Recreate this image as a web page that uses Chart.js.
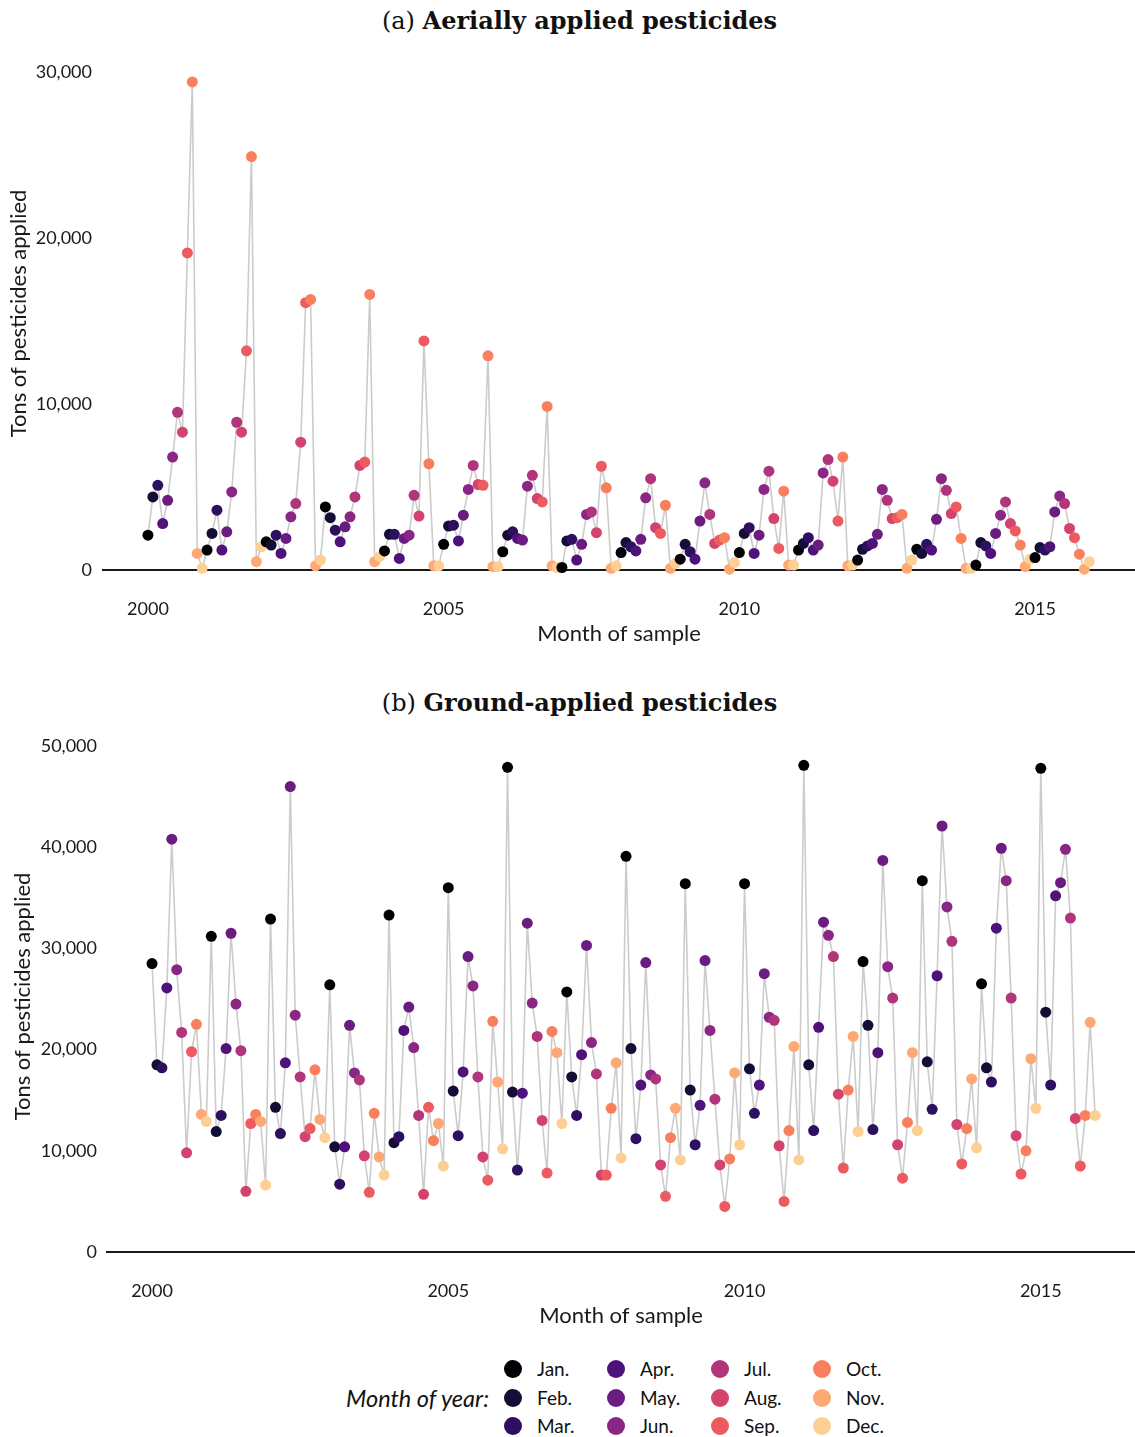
<!DOCTYPE html>
<html>
<head>
<meta charset="utf-8">
<script src="https://cdn.jsdelivr.net/npm/chart.js@4.4.1/dist/chart.umd.min.js"></script>
<style>
  body { margin: 0; background: #fff; font-family: Lato, sans-serif; color: #111; }
  #page { position: relative; width: 1135px; height: 1437px; overflow: hidden; }
  .title { position: absolute; left: 0; width: 1159px; text-align: center;
           font-family: "DejaVu Serif", serif; font-size: 24px; line-height: 28px; }
  canvas { position: absolute; left: 0; }
  #legendTitle { position: absolute; right: 646px; top: 1384px; font-style: italic; font-size: 23.5px; line-height: 28px; }
  .dot { position: absolute; width: 18px; height: 18px; border-radius: 50%; }
  .lab { position: absolute; font-size: 19px; line-height: 22px; }
</style>
</head>
<body>
<div id="page">
  <div class="title" style="top:7px">(a) <b>Aerially applied pesticides</b></div>
  <canvas id="chartA" width="1135" height="607" style="top:40px"></canvas>
  <div class="title" style="top:689px">(b) <b>Ground-applied pesticides</b></div>
  <canvas id="chartB" width="1135" height="607" style="top:722px"></canvas>
  <div id="legendTitle">Month of year:</div>
  <div id="legend"></div>
</div>
<script>
var startYear = 2000;
var monthNames = ["Jan.", "Feb.", "Mar.", "Apr.", "May.", "Jun.", "Jul.", "Aug.", "Sep.", "Oct.", "Nov.", "Dec."];
var monthColors = ["#000004", "#140e36", "#2d1160", "#4f127b", "#6a1c81", "#8a2785",
                   "#b1357b", "#d4436e", "#ed5a5f", "#f9805e", "#fea873", "#fecf92"];
var xTicks = [2000, 2005, 2010, 2015];
var yTicksA = [0, 10000, 20000, 30000];
var yTicksB = [0, 10000, 20000, 30000, 40000, 50000];

// tons per month, Jan 2000 .. Dec 2015
var aerialTons = [
  2100, 4400, 5100, 2800, 4200, 6800, 9500, 8300, 19100, 29400, 1000, 100,
  1200, 2200, 3600, 1200, 2300, 4700, 8900, 8300, 13200, 24900, 500, 1400,
  1700, 1500, 2100, 1000, 1900, 3200, 4000, 7700, 16100, 16300, 250, 600,
  3800, 3150, 2400, 1700, 2600, 3200, 4400, 6300, 6500, 16600, 500, 800,
  1150, 2150, 2150, 700, 1900, 2100, 4500, 3250, 13800, 6400, 250, 250,
  1550, 2650, 2700, 1750, 3300, 4850, 6300, 5150, 5100, 12900, 200, 200,
  1100, 2100, 2300, 1900, 1800, 5050, 5700, 4300, 4100, 9850, 250, 150,
  150, 1750, 1850, 600, 1550, 3350, 3500, 2250, 6250, 4950, 100, 250,
  1050, 1650, 1400, 1150, 1850, 4350, 5500, 2550, 2200, 3900, 100, 400,
  650, 1550, 1100, 650, 2950, 5250, 3350, 1600, 1800, 1950, 50, 450,
  1050, 2200, 2550, 1000, 2100, 4850, 5950, 3100, 1300, 4750, 300, 300,
  1200, 1600, 1950, 1200, 1500, 5850, 6650, 5350, 2950, 6800, 250, 300,
  600, 1250, 1450, 1600, 2150, 4850, 4200, 3100, 3150, 3350, 100, 600,
  1250, 1000, 1550, 1200, 3050, 5500, 4800, 3400, 3800, 1900, 100, 100,
  300, 1650, 1450, 1000, 2200, 3300, 4100, 2800, 2350, 1500, 200, 650,
  750, 1350, 1200, 1400, 3500, 4450, 4000, 2500, 1950, 950, 50, 500
];
var groundTons = [
  28500, 18500, 18200, 26100, 40800, 27900, 21700, 9800, 19800, 22500, 13600, 12900,
  31200, 11900, 13500, 20100, 31500, 24500, 19900, 6000, 12700, 13600, 12900, 6600,
  32900, 14300, 11700, 18700, 46000, 23400, 17300, 11400, 12200, 18000, 13100, 11300,
  26400, 10400, 6700, 10400, 22400, 17700, 17000, 9500, 5900, 13700, 9400, 7600,
  33300, 10800, 11400, 21900, 24200, 20200, 13500, 5700, 14300, 11000, 12700, 8500,
  36000, 15900, 11500, 17800, 29200, 26300, 17300, 9400, 7100, 22800, 16800, 10200,
  47900, 15800, 8100, 15700, 32500, 24600, 21300, 13000, 7800, 21800, 19700, 12700,
  25700, 17300, 13500, 19500, 30300, 20700, 17600, 7600, 7600, 14200, 18700, 9300,
  39100, 20100, 11200, 16500, 28600, 17500, 17100, 8600, 5500, 11300, 14200, 9100,
  36400, 16000, 10600, 14500, 28800, 21900, 15100, 8600, 4500, 9200, 17700, 10600,
  36400, 18100, 13700, 16500, 27500, 23200, 22900, 10500, 5000, 12000, 20300, 9100,
  48100, 18500, 12000, 22200, 32600, 31300, 29200, 15600, 8300, 16000, 21300, 11900,
  28700, 22400, 12100, 19700, 38700, 28200, 25100, 10600, 7300, 12800, 19700, 12000,
  36700, 18800, 14100, 27300, 42100, 34100, 30700, 12600, 8700, 12200, 17100, 10300,
  26500, 18200, 16800, 32000, 39900, 36700, 25100, 11500, 7700, 10000, 19100, 14200,
  47800, 23700, 16500, 35200, 36500, 39800, 33000, 13200, 8500, 13500, 22700, 13500
];

Chart.defaults.font.family = "Lato";
Chart.defaults.color = "#1a1a1a";

function makeChart(id, values, o) {
  var pts = values.map(function (v, i) { return { x: startYear + i / 12, y: v }; });
  var cols = values.map(function (v, i) { return monthColors[i % 12]; });
  return new Chart(id, {
    type: "line",
    data: {
      datasets: [{
        data: pts,
        borderColor: "#cccccc",
        borderWidth: 1.6,
        pointRadius: 5.5,
        pointBorderWidth: 0,
        pointBackgroundColor: cols,
        clip: false,
        tension: 0
      }]
    },
    options: {
      responsive: false,
      animation: false,
      layout: { autoPadding: false, padding: { top: o.top, right: 0, bottom: 0, left: 0 } },
      plugins: { legend: { display: false }, tooltip: { enabled: false } },
      scales: {
        x: {
          type: "linear", min: o.xmin, max: o.xmax,
          grid: { display: false, drawTicks: false },
          border: { display: true, color: "#1a1a1a", width: 2 },
          afterBuildTicks: function (s) { s.ticks = xTicks.map(function (v) { return { value: v }; }); },
          afterFit: function (s) { s.height = 77; s.paddingLeft = 0; s.paddingRight = 0; },
          ticks: { autoSkip: false, maxRotation: 0, padding: 28, font: { size: 18 },
                   callback: function (v) { return String(v); } },
          title: { display: true, text: "Month of sample", font: { size: 22 }, padding: 0 }
        },
        y: {
          min: 0, max: o.ymax,
          grid: { display: false, drawTicks: false },
          border: { display: false },
          afterBuildTicks: function (s) { s.ticks = o.yTicks.map(function (v) { return { value: v }; }); },
          afterFit: function (s) { s.width = o.yWidth; s.paddingTop = 0; s.paddingBottom = 0; },
          ticks: { padding: o.yPad, font: { size: 18 },
                   callback: function (v) { return v.toLocaleString("en-US"); } },
          title: { display: true, text: "Tons of pesticides applied", font: { size: 22 },
                   padding: { top: o.titlePad, bottom: 0 } }
        }
      }
    }
  });
}

makeChart("chartA", aerialTons, { top: 17, xmin: 1999.24, xmax: 2016.69, ymax: 30900,
  yTicks: yTicksA, yWidth: 103, yPad: 11, titlePad: 6 });
makeChart("chartB", groundTons, { top: 19, xmin: 1999.24, xmax: 2016.59, ymax: 50500,
  yTicks: yTicksB, yWidth: 107, yPad: 10, titlePad: 10 });

// legend, filled column by column
var colX = [513, 616, 720, 822];
var rowY = [1369, 1398, 1426];
var legend = document.getElementById("legend");
monthNames.forEach(function (name, i) {
  var cx = colX[Math.floor(i / 3)], cy = rowY[i % 3];
  var d = document.createElement("div");
  d.className = "dot";
  d.style.left = (cx - 9) + "px";
  d.style.top = (cy - 9) + "px";
  d.style.background = monthColors[i];
  legend.appendChild(d);
  var t = document.createElement("div");
  t.className = "lab";
  t.style.left = (cx + 24) + "px";
  t.style.top = (cy - 11) + "px";
  t.textContent = name;
  legend.appendChild(t);
});
</script>
</body>
</html>
